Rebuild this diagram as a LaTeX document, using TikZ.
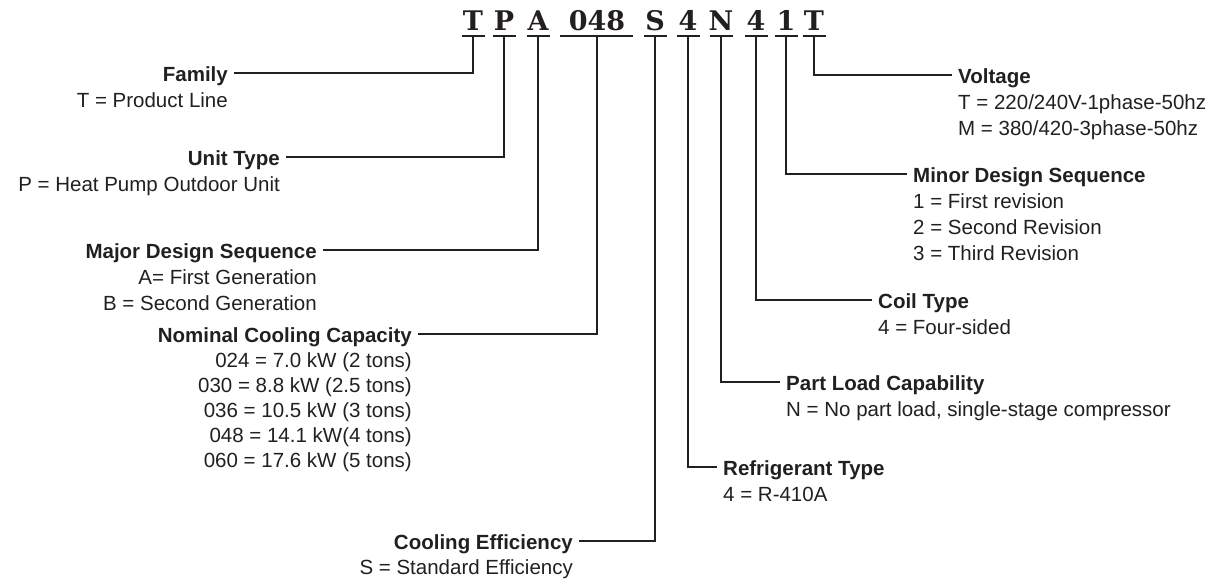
\documentclass[tikz,border=0pt]{standalone}
\usepackage{fontspec}
\setmainfont{Liberation Sans}
\newfontfamily\codefont{DejaVu Serif}
\definecolor{ink}{HTML}{231F20}
\begin{document}
\begin{tikzpicture}[x=1pt,y=-1pt,
  title/.style={font=\fontsize{20.5}{26}\selectfont\bfseries, inner sep=0pt, text height=16pt, text depth=0pt, text=ink},
  item/.style={font=\fontsize{20.5}{26}\selectfont, inner sep=0pt, text=ink},
  conn/.style={draw=ink, line width=2.4pt, shorten >=6pt},
  uline/.style={draw=ink, line width=2.4pt},
  code/.style={font=\codefont\bfseries\fontsize{27}{27}\selectfont, inner sep=0pt, text=ink, anchor=base}]
\useasboundingbox (0,0) rectangle (1230,579);

% header code letters
\node[code] (c1) at (473,30) {T};
\node[code] (c2) at (504,30) {P};
\node[code] (c3) at (538,30) {A};
\node[code] (c4) at (597,30) {048};
\node[code] (c5) at (655,30) {S};
\node[code] (c6) at (688,30) {4};
\node[code] (c7) at (721,30) {N};
\node[code] (c8) at (756,30) {4};
\node[code] (c9) at (786,30) {1};
\node[code] (c10) at (814,30) {T};

\foreach \i/\x in {1/473,2/504,3/538,5/655,6/688,7/721,8/756,9/786,10/814}{
  \coordinate (u\i) at (\x,36);
  \draw[uline] ([xshift=-11.5pt]u\i) -- ([xshift=11.5pt]u\i);
}
\coordinate (u4) at (597,36);
\draw[uline] ([xshift=-37pt]u4) -- ([xshift=36pt]u4);

% left labels
\node[title, anchor=east] (fam) at (228,73) {Family};
\node[item, anchor=base east] (fam1) at ([yshift=-26pt]fam.base east) {T = Product Line};

\node[title, anchor=east] (unit) at (280,157) {Unit Type};
\node[item, anchor=base east] (unit1) at ([yshift=-26pt]unit.base east) {P = Heat Pump Outdoor Unit};

\node[title, anchor=east] (major) at (317,250) {Major Design Sequence};
\node[item, anchor=base east] (major1) at ([yshift=-26pt]major.base east) {A= First Generation};
\node[item, anchor=base east] (major2) at ([yshift=-26pt]major1.base east) {B = Second Generation};

\node[title, anchor=east] (nom) at (412,334) {Nominal Cooling Capacity};
\node[item, anchor=base east] (nom1) at ([yshift=-25pt]nom.base east) {024 = 7.0 kW (2 tons)};
\node[item, anchor=base east] (nom2) at ([yshift=-25pt]nom1.base east) {030 = 8.8 kW (2.5 tons)};
\node[item, anchor=base east] (nom3) at ([yshift=-25pt]nom2.base east) {036 = 10.5 kW (3 tons)};
\node[item, anchor=base east] (nom4) at ([yshift=-25pt]nom3.base east) {048 = 14.1 kW(4 tons)};
\node[item, anchor=base east] (nom5) at ([yshift=-25pt]nom4.base east) {060 = 17.6 kW (5 tons)};

\node[title, anchor=east] (eff) at (573,541) {Cooling Efficiency};
\node[item, anchor=base east] (eff1) at ([yshift=-25pt]eff.base east) {S = Standard Efficiency};

% right labels
\node[title, anchor=west] (volt) at (958,75) {Voltage};
\node[item, anchor=base west] (volt1) at ([yshift=-26pt]volt.base west) {T = 220/240V-1phase-50hz};
\node[item, anchor=base west] (volt2) at ([yshift=-26pt]volt1.base west) {M = 380/420-3phase-50hz};

\node[title, anchor=west] (minor) at (913,174) {Minor Design Sequence};
\node[item, anchor=base west] (minor1) at ([yshift=-26pt]minor.base west) {1 = First revision};
\node[item, anchor=base west] (minor2) at ([yshift=-26pt]minor1.base west) {2 = Second Revision};
\node[item, anchor=base west] (minor3) at ([yshift=-26pt]minor2.base west) {3 = Third Revision};

\node[title, anchor=west] (coil) at (878,300) {Coil Type};
\node[item, anchor=base west] (coil1) at ([yshift=-26pt]coil.base west) {4 = Four-sided};

\node[title, anchor=west] (part) at (786,382) {Part Load Capability};
\node[item, anchor=base west] (part1) at ([yshift=-26pt]part.base west) {N = No part load, single-stage compressor};

\node[title, anchor=west] (refr) at (723,467) {Refrigerant Type};
\node[item, anchor=base west] (refr1) at ([yshift=-26pt]refr.base west) {4 = R-410A};

% connectors
\draw[conn] (u1) |- (fam.east);
\draw[conn] (u2) |- (unit.east);
\draw[conn] (u3) |- (major.east);
\draw[conn] (u4) |- (nom.east);
\draw[conn] (u5) |- (eff.east);
\draw[conn] (u6) |- (refr.west);
\draw[conn] (u7) |- (part.west);
\draw[conn] (u8) |- (coil.west);
\draw[conn] (u9) |- (minor.west);
\draw[conn] (u10) |- (volt.west);
\end{tikzpicture}
\end{document}
